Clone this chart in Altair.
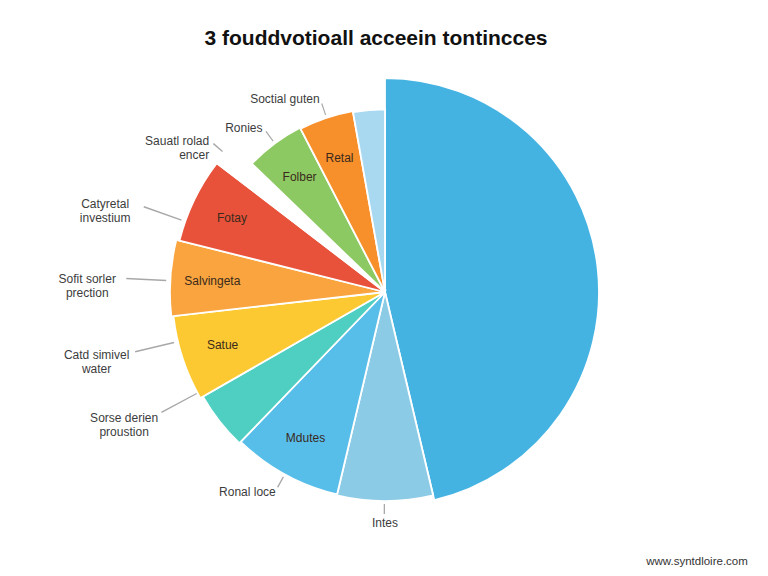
import altair as alt
import pandas as pd

# ---- data ----
slice_keys = ["main", "intes", "mdutes", "sorse", "satue", "salvingeta",
              "fotay", "gap", "folber", "retal", "sliver"]
shares = [46.3, 7.4, 8.5, 4.5, 6.5, 5.7, 6.5, 1.8, 5.2, 4.8, 2.8]
reach = [100, 97.7, 97.2, 98.1, 99.5, 100.5, 99.0, 99.0, 86.4, 85.9, 85.4]
colors = ["#45b3e2", "#8ccbe6", "#57bde9", "#4fcfc2", "#fcc932", "#f9a43e",
          "#e8523a", "#ffffff", "#8dc962", "#f78f2b", "#a9d9f1"]
inner_labels = ["", "", "Mdutes", "", "Satue", "Salvingeta", "Fotay", "",
                "Folber", "Retal", ""]
outer_labels = ["", "Intes", "Ronal loce", "Sorse derien\nproustion",
                "Catd simivel\nwater", "Sofit sorler\nprection",
                "Catyretal\ninvestium", "Sauatl rolad\nencer", "Ronies",
                "Soctial guten", ""]
title_text = "3 fouddvotioall acceein tontincces"
footer_text = "www.syntdloire.com"

df = pd.DataFrame({
    "idx": list(range(len(slice_keys))),
    "key": slice_keys,
    "share": shares,
    "reach": reach,
    "inner": inner_labels,
    "outer": outer_labels,
})

FONT = "Liberation Sans"
rscale = alt.Scale(type="linear", domain=[0, 100], range=[0, 214], zero=True)
cscale = alt.Scale(domain=slice_keys, range=colors)
cx = alt.value(377)
cy = alt.value(226)

base = (
    alt.Chart(df)
    .transform_window(cum="sum(share)", sort=[alt.SortField("idx", order="ascending")],
                      frame=[None, 0])
    .transform_joinaggregate(total="sum(share)")
    .transform_calculate(
        start="2*PI*(datum.cum - datum.share)/datum.total",
        end="2*PI*datum.cum/datum.total",
        mid="2*PI*(datum.cum - datum.share/2)/datum.total",
        deg="360*(datum.cum - datum.share/2)/datum.total",
    )
    .transform_calculate(
        # labels on the left side are pulled a little toward the horizontal
        lab="(datum.deg >= 225 && datum.deg <= 300) ? datum.mid + 0.25*(1.5*PI - datum.mid) : datum.mid"
    )
    .transform_calculate(lab2="datum.lab + 0.006")
)

pie = base.mark_arc(stroke="white", strokeWidth=1.8).encode(
    x=cx, y=cy,
    theta=alt.Theta("start:Q", scale=None),
    theta2=alt.Theta2("end:Q"),
    radius=alt.Radius("reach:Q", scale=rscale),
    color=alt.Color("key:N", scale=cscale, legend=None),
)

def leader(flt, r_in, r_out):
    return base.transform_filter(flt).mark_arc(
        color="#a8a8a8", radiusOffset=r_out, radius2Offset=r_in
    ).encode(
        x=cx, y=cy,
        theta=alt.Theta("lab:Q", scale=None),
        theta2=alt.Theta2("lab2:Q"),
        radius=alt.Radius("reach:Q", scale=rscale),
        radius2=alt.Radius2("reach:Q"),
    )

def outer_text(flt, off, align, dx=0):
    return base.transform_filter(flt).mark_text(
        radiusOffset=off, align=align, dx=dx, baseline="middle", lineBreak="\n",
        font=FONT, fontSize=12, color="#3c3c3c", lineHeight=14,
    ).encode(
        x=cx, y=cy,
        theta=alt.Theta("lab:Q", scale=None),
        radius=alt.Radius("reach:Q", scale=rscale),
        text="outer:N",
    )

far = "datum.outer != '' && datum.deg >= 225 && datum.deg <= 300"
near = "datum.outer != '' && datum.deg > 200 && (datum.deg < 225 || datum.deg > 300)"
bottom = "datum.outer != '' && datum.deg <= 200"

inner = base.transform_filter("datum.inner != ''").mark_text(
    radiusOffset=-42, font=FONT, fontSize=12, color="#3a2a1c"
).encode(
    x=cx, y=cy,
    theta=alt.Theta("mid:Q", scale=None),
    radius=alt.Radius("reach:Q", scale=rscale),
    text="inner:N",
)

footer = alt.Chart(pd.DataFrame({"t": [footer_text]})).mark_text(
    align="center", font=FONT, fontSize=11.5, color="#333333"
).encode(x=alt.value(689), y=alt.value(496), text="t:N")

chart = alt.layer(
    pie,
    leader(far, 4, 44), leader(near, 3, 15), leader(bottom, 3, 13),
    outer_text(far, 55, "center", -28),
    outer_text(near, 20, "right"),
    outer_text(bottom, 22, "center"),
    inner,
    footer,
).properties(
    width=752, height=502,
    title=alt.TitleParams(title_text, font=FONT, fontSize=21, fontWeight="bold",
                          color="#111111", anchor="middle", offset=17, dx=-8),
    autosize=alt.AutoSizeParams(type="none"),
    padding={"top": 58, "left": 0, "right": 0, "bottom": 0},
).configure_view(stroke=None)

chart.save("out.html", embed_options={"renderer": "svg", "actions": False})
